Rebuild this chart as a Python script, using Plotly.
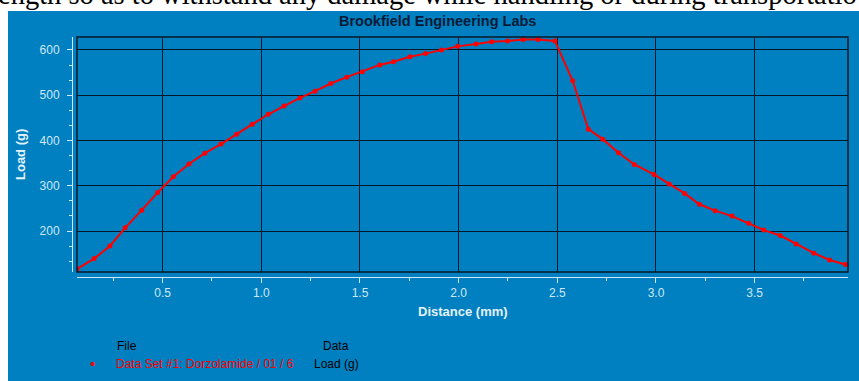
import plotly.graph_objects as go

# ---- data ----
distance_mm = [0.066, 0.153, 0.233, 0.31, 0.394, 0.475, 0.554, 0.633, 0.714, 0.796,
               0.875, 0.954, 1.035, 1.115, 1.196, 1.272, 1.352, 1.433, 1.512, 1.6,
               1.67, 1.753, 1.832, 1.913, 1.995, 2.088, 2.167, 2.248, 2.327, 2.403,
               2.488, 2.578, 2.657, 2.73, 2.81, 2.89, 2.99, 3.067, 3.145, 3.22,
               3.3, 3.385, 3.47, 3.546, 3.63, 3.71, 3.80, 3.88, 3.96]
load_g = [116, 139, 167, 207, 246, 285, 320, 348, 372, 392,
          414, 436, 458, 476, 494, 509, 526, 540, 552, 567,
          574, 585, 592, 600, 608, 613, 618, 620, 623, 623,
          620, 532, 425, 403, 373, 347, 325, 304, 283, 259,
          245, 233, 217, 202, 190, 171, 151, 136, 126]

title_text = "Brookfield Engineering Labs"
x_title = "Distance (mm)"
y_title = "Load (g)"
legend_file_header = "File"
legend_data_header = "Data"
series_name = "Data Set #1: Dorzolamide / 01 / 6"
series_data = "Load (g)"
top_text = "ength so as to withstand any damage while handling or during transportatio"

# ---- geometry (pixels) ----
W, H = 859, 381
ML, MR, MT, MB = 60, 11, 37, 104
PW = W - ML - MR
PH = H - MT - MB


def px(x):
    return (x - ML) / PW


def py(y):
    return (H - MB - y) / PH


BLUE = "#0080c0"
LIGHT = "#cfe7f7"
GRID = "#04182a"

fig = go.Figure()
fig.add_trace(go.Scatter(
    x=distance_mm, y=load_g, mode="lines+markers",
    line=dict(color="#ff0000", width=2),
    marker=dict(color="#ff0000", size=5),
    showlegend=False, hoverinfo="skip"))

fig.update_layout(
    width=W, height=H,
    margin=dict(l=ML, r=MR, t=MT, b=MB, pad=0),
    paper_bgcolor="white", plot_bgcolor=BLUE,
    font=dict(family="Arial, Liberation Sans, sans-serif", size=12, color=LIGHT),
    showlegend=False,
    xaxis=dict(
        domain=[px(77), 1], range=[0.066, 3.973], anchor="free", position=0,
        showline=True, linecolor=LIGHT, linewidth=1,
        ticks="outside", ticklen=5, tickcolor=LIGHT, tickwidth=1,
        tick0=0, dtick=0.5, tickformat=".1f",
        minor=dict(dtick=0.25, ticks="outside", ticklen=3, tickcolor=LIGHT),
        showgrid=True, gridcolor=GRID, gridwidth=1, zeroline=False,
        tickfont=dict(size=12, color=LIGHT),
    ),
    yaxis=dict(
        domain=[py(272), 1], range=[109.4, 628.7], anchor="free", position=px(72),
        showline=True, linecolor=LIGHT, linewidth=1,
        ticks="outside", ticklen=5, tickcolor=LIGHT, tickwidth=1,
        tick0=0, dtick=100,
        minor=dict(dtick=100 / 3, ticks="outside", ticklen=3, tickcolor=LIGHT),
        showgrid=True, gridcolor=GRID, gridwidth=1, zeroline=False,
        tickfont=dict(size=12, color=LIGHT), ticklabelstandoff=5,
    ),
    shapes=[
        dict(type="rect", xref="paper", yref="paper", layer="below",
             x0=px(8), x1=px(W + 2), y0=py(H + 2), y1=py(11),
             fillcolor=BLUE, line=dict(width=0)),
        dict(type="rect", xref="x domain", yref="y domain", layer="above",
             x0=0, x1=1, y0=0, y1=1, line=dict(color=GRID, width=1.5)),
    ],
    annotations=[
        dict(text=top_text, xref="paper", yref="paper", x=px(-4), y=py(12),
             xanchor="left", yanchor="bottom", showarrow=False,
             font=dict(family="Liberation Serif, Times New Roman, serif", size=28.5, color="black")),
        dict(text="<b>" + title_text + "</b>", xref="paper", yref="paper",
             x=px(437.6), y=py(21), xanchor="center", yanchor="middle", showarrow=False,
             font=dict(family="Arial, Liberation Sans", size=14.5, color="#0a1a36")),
        dict(text="<b>" + x_title + "</b>", xref="paper", yref="paper",
             x=px(462.5), y=py(311.5), xanchor="center", yanchor="middle", showarrow=False,
             font=dict(size=13, color="#e4f2fc")),
        dict(text="<b>" + y_title + "</b>", xref="paper", yref="paper", textangle=-90,
             x=px(20), y=py(155), xanchor="center", yanchor="middle", showarrow=False,
             font=dict(size=13, color="#e4f2fc")),
        dict(text=legend_file_header, xref="paper", yref="paper",
             x=px(115), y=py(346), xanchor="left", yanchor="middle", showarrow=False,
             font=dict(size=12, color="black")),
        dict(text=legend_data_header, xref="paper", yref="paper",
             x=px(321), y=py(346), xanchor="left", yanchor="middle", showarrow=False,
             font=dict(size=12, color="black")),
        dict(text="•", xref="paper", yref="paper",
             x=px(92), y=py(363), xanchor="center", yanchor="middle", showarrow=False,
             font=dict(size=15, color="#ff0000")),
        dict(text=series_name, xref="paper", yref="paper",
             x=px(114), y=py(364), xanchor="left", yanchor="middle", showarrow=False,
             font=dict(size=12, color="#ff0000")),
        dict(text=series_data, xref="paper", yref="paper",
             x=px(312), y=py(364), xanchor="left", yanchor="middle", showarrow=False,
             font=dict(size=12, color="black")),
    ],
)

fig.write_html("out.html", config={"displayModeBar": False},
               post_script="document.body.style.margin='0';document.body.style.overflow='hidden';")
